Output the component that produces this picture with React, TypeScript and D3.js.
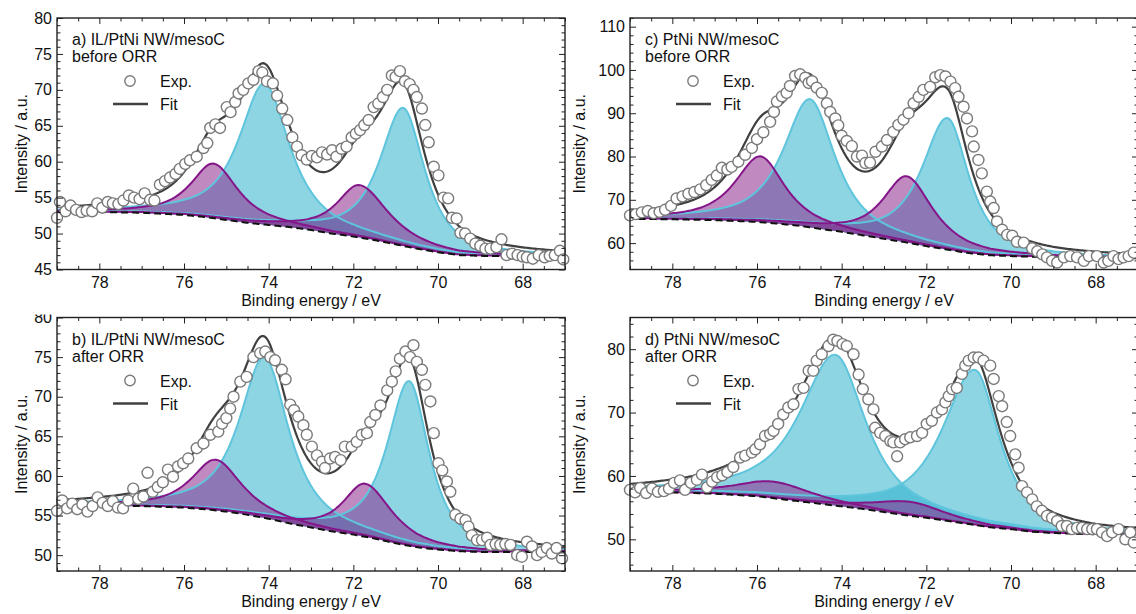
import React, { useEffect, useRef } from 'react'
import * as d3 from 'd3'

type Pt = [number, number]
// peak: [centre / eV, height above background, half width on high-BE side, half width on low-BE side]
type Peak = [number, number, number, number]

// ---------- a) IL/PtNi NW/mesoC before ORR
const aExp: Pt[] = [
  [79.0,52.2],[78.93,54.4],[78.8,53.1],[78.68,53.9],[78.55,53.3],[78.42,53.0],[78.3,53.2],[78.17,53.1],[78.05,54.2],[77.93,53.6],
  [77.8,54.4],[77.68,54.2],[77.55,54.1],[77.43,54.6],[77.3,55.3],[77.18,55.0],[77.05,54.8],[76.93,55.6],[76.8,54.7],[76.7,54.6],
  [76.57,56.8],[76.45,57.3],[76.33,57.8],[76.2,58.3],[76.1,59.0],[75.97,59.7],[75.86,60.2],[75.7,60.7],[75.54,61.9],[75.45,62.6],
  [75.38,64.7],[75.26,65.2],[75.15,64.7],[74.99,67.6],[74.9,66.9],[74.79,68.3],[74.71,69.5],[74.6,70.0],[74.48,70.9],[74.36,71.4],
  [74.24,72.6],[74.15,72.4],[74.04,71.2],[73.9,70.9],[73.8,69.2],[73.68,67.4],[73.56,65.8],[73.44,63.4],[73.33,62.1],
  [73.22,60.9],[73.1,60.3],[72.98,60.8],[72.86,60.6],[72.74,61.3],[72.62,61.0],[72.5,61.6],[72.4,60.7],[72.28,61.8],[72.16,62.1],
  [72.04,63.4],[71.94,63.9],[71.84,64.4],[71.74,65.1],[71.64,65.8],[71.52,67.6],[71.41,68.1],[71.3,69.0],[71.2,70.0],[71.09,72.0],
  [71.0,71.8],[70.9,72.6],[70.78,71.2],[70.67,70.8],[70.58,70.0],[70.5,69.0],[70.38,67.4],[70.3,65.1],[70.22,62.7],[70.1,59.3],
  [69.99,58.1],[69.87,55.0],[69.76,54.9],[69.67,52.2],[69.56,52.1],[69.47,50.1],[69.36,50.0],[69.24,49.3],[69.12,48.6],[69.0,48.3],
  [68.88,47.9],[68.76,47.9],[68.62,48.1],[68.5,49.2],[68.38,47.0],[68.25,47.2],[68.12,47.0],[68.0,46.8],[67.9,46.7],[67.76,46.5],
  [67.62,47.0],[67.48,46.7],[67.36,46.9],[67.24,47.0],[67.12,47.6],[67.04,46.4]
]
const aBg: Pt[] = [[79,53.0],[78,53.0],[77,52.9],[76,52.6],[75.5,52.3],[75,51.9],[74.5,51.5],[74,51.2],[73.5,50.9],[73,50.5],
  [72.5,50.0],[72,49.6],[71.5,49.1],[71,48.5],[70.5,47.9],[70,47.4],[69.5,47.0],[69,46.9],[68,46.85],[67,46.8]]
const aMetal: Peak[] = [[74.1, 19.6, 0.72, 0.7], [70.82, 19.2, 0.66, 0.6]]
const aOxide: Peak[] = [[75.3, 7.6, 0.64, 0.68], [71.85, 7.3, 0.65, 0.8]]

// ---------- b) IL/PtNi NW/mesoC after ORR
const bExp: Pt[] = [
  [79.0,55.6],[78.88,56.9],[78.76,55.9],[78.64,56.5],[78.52,55.8],[78.4,56.4],[78.28,55.5],[78.16,56.2],[78.04,57.3],[77.92,56.6],
  [77.8,56.2],[77.68,56.8],[77.56,56.0],[77.44,55.9],[77.32,56.9],[77.2,58.4],[77.08,57.1],[76.96,57.4],[76.86,60.4],[76.74,58.0],
  [76.62,58.6],[76.5,59.2],[76.38,60.8],[76.26,59.9],[76.14,61.2],[76.02,61.6],[75.9,62.2],[75.7,63.5],[75.54,64.1],[75.38,65.2],
  [75.19,65.6],[75.1,66.6],[75.0,67.3],[74.91,68.5],[74.83,70.0],[74.67,71.9],[74.52,72.5],[74.36,75.0],[74.2,75.5],[74.08,75.7],
  [73.96,75.0],[73.85,74.6],[73.69,73.4],[73.6,72.2],[73.49,69.0],[73.4,68.3],[73.3,67.5],[73.18,66.4],[73.1,65.2],[72.98,63.7],
  [72.86,62.6],[72.74,61.8],[72.67,61.0],[72.55,62.2],[72.43,62.4],[72.3,62.0],[72.2,63.7],[72.04,63.7],[71.92,64.3],[71.8,65.2],
  [71.68,65.4],[71.6,66.8],[71.48,67.7],[71.36,68.9],[71.2,70.8],[71.09,71.9],[71.0,73.2],[70.9,74.8],[70.77,75.7],[70.66,75.0],
  [70.58,76.5],[70.5,74.4],[70.38,73.4],[70.3,71.5],[70.18,69.4],[70.1,65.4],[69.99,61.6],[69.9,60.7],[69.79,59.3],[69.71,58.0],
  [69.59,55.1],[69.47,54.6],[69.35,54.4],[69.28,53.6],[69.2,52.5],[69.08,51.9],[68.96,51.9],[68.84,52.2],[68.76,51.3],[68.64,51.4],
  [68.53,51.3],[68.41,51.4],[68.29,51.3],[68.13,50.0],[68.02,49.8],[67.9,51.7],[67.78,51.1],[67.66,50.0],[67.55,50.4],[67.43,50.9],
  [67.31,50.2],[67.2,50.9],[67.07,49.6]
]
const bBg: Pt[] = [[79,56.3],[78,56.3],[77,56.2],[76,56.0],[75.5,55.8],[75,55.5],[74.5,55.1],[74,54.6],[73.5,54.0],[73,53.5],
  [72.5,53.0],[72,52.6],[71.5,52.1],[71,51.5],[70.5,51.0],[70,50.7],[69.5,50.5],[69,50.4],[68,50.4],[67,50.4]]
const bMetal: Peak[] = [[74.1, 20.3, 0.7, 0.68], [70.68, 20.8, 0.62, 0.56]]
const bOxide: Peak[] = [[75.25, 6.4, 0.68, 0.72], [71.72, 6.7, 0.62, 0.75]]

// ---------- c) PtNi NW/mesoC before ORR
const cExp: Pt[] = [
  [79.0,66.4],[78.86,66.7],[78.72,67.1],[78.58,67.4],[78.44,66.9],[78.3,67.2],[78.17,67.7],[78.03,68.6],[77.9,70.3],[77.76,70.8],
  [77.62,71.4],[77.48,71.8],[77.34,72.4],[77.2,73.4],[77.07,74.6],[76.95,75.6],[76.83,77.4],[76.7,77.0],[76.6,77.6],[76.44,78.8],
  [76.28,80.4],[76.12,82.0],[76.0,84.0],[75.85,85.6],[75.69,88.0],[75.6,90.3],[75.53,92.7],[75.41,93.9],[75.3,94.7],[75.22,96.3],
  [75.1,98.6],[74.98,99.0],[74.86,98.2],[74.78,97.0],[74.7,97.4],[74.59,95.9],[74.47,94.7],[74.35,92.3],[74.27,90.3],[74.15,88.8],
  [74.08,87.2],[74.0,84.8],[73.88,83.6],[73.76,82.4],[73.64,80.0],[73.52,80.2],[73.44,78.5],[73.33,78.6],[73.2,81.1],[73.05,82.3],
  [72.93,83.8],[72.78,85.7],[72.66,87.3],[72.54,88.5],[72.42,90.0],[72.3,92.3],[72.18,93.8],[72.07,95.4],[71.91,96.1],[71.79,98.3],
  [71.67,98.8],[71.55,98.5],[71.43,97.3],[71.32,95.8],[71.24,93.8],[71.12,91.5],[71.04,88.8],[70.92,85.8],[70.88,82.3],[70.77,79.2],
  [70.69,76.1],[70.57,71.9],[70.49,69.6],[70.41,68.1],[70.33,65.0],[70.21,63.1],[70.09,61.9],[69.97,61.7],[69.86,60.3],[69.7,60.1],
  [69.5,58.8],[69.38,58.1],[69.26,57.4],[69.15,56.7],[69.03,55.9],[68.91,55.5],[68.75,56.7],[68.6,57.0],[68.44,56.7],[68.28,55.9],
  [68.16,57.0],[67.97,57.0],[67.81,55.5],[67.7,55.9],[67.58,57.0],[67.46,56.3],[67.34,56.7],[67.22,57.0],[67.1,57.8]
]
const cBg: Pt[] = [[79,65.6],[78,65.5],[77,65.3],[76,64.9],[75.5,64.5],[75,64.0],[74.5,63.3],[74,62.6],[73.5,61.8],[73,61.0],
  [72.5,60.2],[72,59.3],[71.5,58.5],[71,57.7],[70.5,57.2],[70,57.0],[69,56.7],[68,56.6],[67,56.5]]
const cMetal: Peak[] = [[74.75, 29.6, 0.74, 0.7], [71.5, 30.4, 0.72, 0.6]]
const cOxide: Peak[] = [[75.92, 15.2, 0.72, 0.68], [72.46, 15.3, 0.68, 0.72]]

// ---------- d) PtNi NW/mesoC after ORR
const dExp: Pt[] = [
  [79.0,57.8],[78.88,57.4],[78.76,58.1],[78.62,57.3],[78.48,58.0],[78.34,57.5],[78.2,57.6],[78.08,58.0],[77.96,58.9],[77.82,59.3],
  [77.7,57.8],[77.56,58.9],[77.42,59.4],[77.3,60.2],[77.18,58.2],[77.06,59.1],[76.94,59.8],[76.82,60.1],[76.7,60.6],[76.56,61.4],
  [76.4,62.9],[76.28,63.2],[76.12,63.7],[76.04,64.2],[75.93,65.0],[75.81,66.3],[75.69,66.6],[75.61,67.1],[75.5,68.2],[75.38,69.7],
  [75.26,70.8],[75.14,71.3],[75.02,73.7],[74.9,73.9],[74.78,76.6],[74.67,76.6],[74.59,78.2],[74.47,79.2],[74.31,80.5],[74.2,81.5],
  [74.1,81.3],[73.98,80.8],[73.88,80.5],[73.72,79.2],[73.6,76.0],[73.5,73.7],[73.37,72.1],[73.25,70.5],[73.21,67.6],[73.09,66.8],
  [72.97,66.3],[72.85,65.5],[72.78,65.3],[72.69,63.1],[72.62,65.3],[72.5,65.8],[72.38,66.1],[72.22,66.3],[72.1,66.8],[71.99,68.2],
  [71.87,68.7],[71.75,70.0],[71.63,70.5],[71.55,71.6],[71.47,72.6],[71.39,73.7],[71.28,73.9],[71.16,76.1],[71.08,77.4],[71.0,78.2],
  [70.88,78.7],[70.77,78.7],[70.65,78.2],[70.49,77.4],[70.41,75.3],[70.29,72.6],[70.21,71.0],[70.1,68.5],[70.02,66.3],[69.9,63.4],
  [69.82,61.3],[69.74,58.4],[69.62,57.4],[69.5,56.3],[69.39,55.2],[69.27,54.5],[69.15,53.7],[69.03,53.4],[68.91,52.9],[68.8,52.1],
  [68.68,52.1],[68.56,51.6],[68.44,51.8],[68.32,51.8],[68.2,51.6],[68.08,51.6],[67.97,51.6],[67.85,51.1],[67.73,50.5],[67.61,51.1],
  [67.46,51.6],[67.3,50.0],[67.18,51.1],[67.1,49.5]
]
const dBg: Pt[] = [[79,57.4],[78,57.4],[77,57.2],[76,56.8],[75.5,56.4],[75,56.0],[74.5,55.6],[74,55.2],[73.5,54.8],[73,54.3],
  [72.5,53.8],[72,53.4],[71.5,52.9],[71,52.4],[70.5,51.9],[70,51.6],[69.5,51.2],[69,51.0],[68,50.8],[67,50.8]]
const dMetal: Peak[] = [[74.15, 23.8, 1.0, 0.85], [70.85, 24.5, 0.92, 0.68]]
const dOxide: Peak[] = [[75.6, 2.6, 1.1, 1.1], [72.4, 2.2, 1.0, 1.0]]

const energyTicks = [78, 76, 74, 72, 70, 68]

const W = 1136, H = 614, PLOT_W = 508
const FONT = '"Liberation Sans", Arial, Helvetica, sans-serif'
const CYAN = '#2ab0cc', CYAN_LINE = '#5ec5dc', PURPLE = '#8c2a8c', PURPLE_LINE = '#85168a'
const ETA = 0.85 // lorentzian share of the line shape

function peakAt(e: number, p: Peak) {
  const [c, h, wHi, wLo] = p
  const x = (e - c) / (e > c ? wHi : wLo)
  return h * (ETA / (1 + x * x) + (1 - ETA) * Math.exp(-Math.LN2 * x * x))
}

const panels = [
  { id: 'a', left: 57, top: 18, bottom: 269.5, yDom: [45, 80], yMajor: d3.range(45, 81, 5), yMinor: d3.range(45, 81, 1),
    title: ['a) IL/PtNi NW/mesoC', 'before ORR'], exp: aExp, bg: aBg, metal: aMetal, oxide: aOxide, ylabGap: 30, legDx: 0 },
  { id: 'b', left: 57, top: 317.5, bottom: 571, yDom: [48, 80], yMajor: d3.range(50, 81, 5), yMinor: d3.range(48, 81, 1),
    title: ['b) IL/PtNi NW/mesoC', 'after ORR'], exp: bExp, bg: bBg, metal: bMetal, oxide: bOxide, ylabGap: 30, legDx: 0 },
  { id: 'c', left: 630, top: 18, bottom: 269.5, yDom: [53.9, 112], yMajor: d3.range(60, 111, 10), yMinor: d3.range(54, 113, 2),
    title: ['c) PtNi NW/mesoC', 'before ORR'], exp: cExp, bg: cBg, metal: cMetal, oxide: cOxide, ylabGap: 45, legDx: -10 },
  { id: 'd', left: 630, top: 317.5, bottom: 571, yDom: [45, 85], yMajor: d3.range(50, 81, 10), yMinor: d3.range(46, 85, 2),
    title: ['d) PtNi NW/mesoC', 'after ORR'], exp: dExp, bg: dBg, metal: dMetal, oxide: dOxide, ylabGap: 45, legDx: -10 },
]

function drawPanel(svg: d3.Selection<SVGSVGElement, unknown, null, undefined>, p: typeof panels[number]) {
  const x = d3.scaleLinear().domain([79, 67]).range([p.left, p.left + PLOT_W])
  const y = d3.scaleLinear().domain(p.yDom).range([p.bottom, p.top])
  const bg = d3.scaleLinear().domain(p.bg.map(d => d[0])).range(p.bg.map(d => d[1]))
  const grid = d3.range(67, 79.0001, 0.04)
  const g = svg.append('g')

  g.append('clipPath').attr('id', 'clip-' + p.id).append('rect')
    .attr('x', p.left).attr('y', p.top).attr('width', PLOT_W).attr('height', p.bottom - p.top)
  const plot = g.append('g').attr('clip-path', `url(#clip-${p.id})`)

  const comps = [
    ...p.metal.map(pk => ({ pk, fill: CYAN, line: CYAN_LINE, op: 0.53 })),
    ...p.oxide.map(pk => ({ pk, fill: PURPLE, line: PURPLE_LINE, op: 0.55 })),
  ]
  comps.forEach(c => {
    const area = d3.area<number>().x(e => x(e)).y0(e => y(bg(e))).y1(e => y(bg(e) + peakAt(e, c.pk)))
    plot.append('path').datum(grid).attr('d', area).attr('fill', c.fill).attr('fill-opacity', c.op)
  })
  comps.forEach(c => {
    const line = d3.line<number>().x(e => x(e)).y(e => y(bg(e) + peakAt(e, c.pk)))
    plot.append('path').datum(grid).attr('d', line).attr('fill', 'none').attr('stroke', c.line).attr('stroke-width', 2)
  })
  plot.append('path').datum(grid).attr('d', d3.line<number>().x(e => x(e)).y(e => y(bg(e))))
    .attr('fill', 'none').attr('stroke', '#111').attr('stroke-width', 2).attr('stroke-dasharray', '7 4')

  g.append('g').selectAll('circle').data(p.exp).join('circle')
    .attr('cx', d => x(d[0])).attr('cy', d => y(d[1])).attr('r', 5.5)
    .attr('fill', '#fff').attr('stroke', '#7a7a7a').attr('stroke-width', 1.4)

  const fit = d3.line<number>().x(e => x(e))
    .y(e => y(bg(e) + comps.reduce((s, c) => s + peakAt(e, c.pk), 0)))
  plot.append('path').datum(grid).attr('d', fit).attr('fill', 'none').attr('stroke', '#404040').attr('stroke-width', 2.2)

  // axes, ticks pointing inwards on all four sides
  const xMinor = d3.range(67, 79.01, 0.5).filter(v => !energyTicks.includes(v))
  const styleAxis = (sel: any) => {
    sel.select('.domain').remove()
    sel.selectAll('line').attr('stroke', '#222').attr('stroke-width', 1)
    sel.selectAll('text').attr('font-family', FONT).attr('font-size', 16).attr('fill', '#111')
  }
  const R = p.left + PLOT_W
  g.append('g').attr('transform', `translate(0,${p.bottom})`)
    .call(d3.axisBottom(x).tickValues(energyTicks).tickSize(-6).tickPadding(7).tickFormat(d3.format('d'))).call(styleAxis)
  g.append('g').attr('transform', `translate(0,${p.bottom})`)
    .call(d3.axisBottom(x).tickValues(xMinor).tickSize(-3.5).tickFormat(() => '')).call(styleAxis)
  g.append('g').attr('transform', `translate(0,${p.top})`)
    .call(d3.axisTop(x).tickValues(energyTicks).tickSize(-6).tickFormat(() => '')).call(styleAxis)
  g.append('g').attr('transform', `translate(0,${p.top})`)
    .call(d3.axisTop(x).tickValues(xMinor).tickSize(-3.5).tickFormat(() => '')).call(styleAxis)

  const yMinor = p.yMinor.filter(v => !p.yMajor.includes(v))
  const yl = g.append('g').attr('transform', `translate(${p.left},0)`)
    .call(d3.axisLeft(y).tickValues(p.yMajor).tickSize(-6).tickPadding(5).tickFormat(d3.format('d'))).call(styleAxis)
  if (p.id === 'b') {
    // the top label of this panel is cut off in the original figure
    g.append('clipPath').attr('id', 'clip-lab-b').append('rect').attr('x', -60).attr('y', 314.5).attr('width', 120).attr('height', 300)
    yl.attr('clip-path', 'url(#clip-lab-b)')
  }
  g.append('g').attr('transform', `translate(${p.left},0)`)
    .call(d3.axisLeft(y).tickValues(yMinor).tickSize(-3.5).tickFormat(() => '')).call(styleAxis)
  g.append('g').attr('transform', `translate(${R},0)`)
    .call(d3.axisRight(y).tickValues(p.yMajor).tickSize(-6).tickFormat(() => '')).call(styleAxis)
  g.append('g').attr('transform', `translate(${R},0)`)
    .call(d3.axisRight(y).tickValues(yMinor).tickSize(-3.5).tickFormat(() => '')).call(styleAxis)

  g.append('rect').attr('x', p.left).attr('y', p.top).attr('width', PLOT_W).attr('height', p.bottom - p.top)
    .attr('fill', 'none').attr('stroke', '#222').attr('stroke-width', 1.4)

  const txt = (sel: any) => sel.attr('font-family', FONT).attr('font-size', 16).attr('fill', '#111')
  g.append('text').attr('x', p.left + PLOT_W / 2).attr('y', p.bottom + 36).attr('text-anchor', 'middle')
    .text('Binding energy / eV').call(txt)
  const cy = (p.top + p.bottom) / 2
  g.append('text').attr('transform', `translate(${p.left - p.ylabGap},${cy}) rotate(-90)`).attr('text-anchor', 'middle')
    .text('Intensity / a.u.').call(txt)

  // panel caption and legend
  p.title.forEach((t, i) => {
    g.append('text').attr('x', p.left + 15).attr('y', p.top + 27 + i * 17).text(t).call(txt)
  })
  const lx = p.left + p.legDx
  g.append('circle').attr('cx', lx + 73).attr('cy', p.top + 63).attr('r', 5.2)
    .attr('fill', '#fff').attr('stroke', '#7a7a7a').attr('stroke-width', 1.4)
  g.append('text').attr('x', lx + 103).attr('y', p.top + 69).text('Exp.').call(txt)
  g.append('line').attr('x1', lx + 56).attr('x2', lx + 91).attr('y1', p.top + 86).attr('y2', p.top + 86)
    .attr('stroke', '#404040').attr('stroke-width', 2.5)
  g.append('text').attr('x', lx + 103).attr('y', p.top + 92).text('Fit').call(txt)
}

export default function App() {
  const ref = useRef<SVGSVGElement>(null)
  useEffect(() => {
    const svg = d3.select(ref.current!)
    svg.selectAll('*').remove()
    panels.forEach(p => drawPanel(svg as any, p))
  }, [])
  return (
    <svg ref={ref} width={W} height={H} viewBox={`0 0 ${W} ${H}`}
      style={{ position: 'absolute', left: 0, top: 0, background: '#fff' }} />
  )
}
